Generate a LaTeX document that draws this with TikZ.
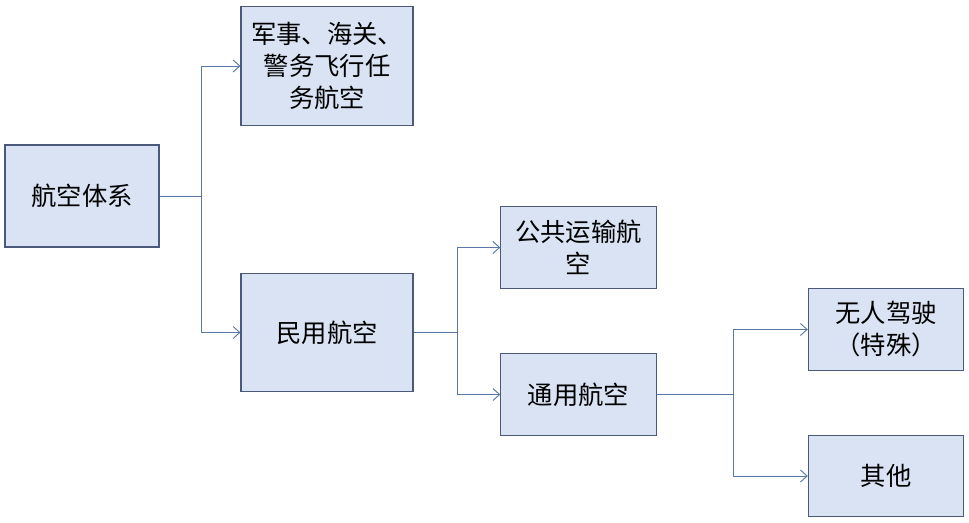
\documentclass[tikz,border=0pt]{standalone}
\usepackage{fontspec}
\setmainfont{Noto Sans CJK SC}
\usetikzlibrary{arrows.meta}

\definecolor{boxfill}{HTML}{DAE3F3}
\definecolor{boxline}{HTML}{4A5A78}
\definecolor{linkline}{HTML}{5A78A4}

\tikzset{
    box/.style={draw=boxline, fill=boxfill, line width=0.8pt, inner sep=0pt,
        align=center, font=\fontsize{19}{24}\selectfont},
    sysbox/.style={box, minimum width=115.5pt, minimum height=76.5pt},
    bigbox/.style={box, minimum width=129pt, minimum height=89pt},
    smallbox/.style={box, minimum width=116.5pt, minimum height=61pt},
    link/.style={draw=linkline, line width=0.7pt},
    linkto/.style={link, -{Straight Barb[length=5pt,width=9pt,line width=0.7pt]}}
}

\begin{document}
\begin{tikzpicture}[x=0.75pt,y=-0.75pt]
    % Frame
    \useasboundingbox (0,0) rectangle (969,522);

    % Boxes
    \node[sysbox]   (sys) at (82,196)    {航空体系};
    \node[bigbox]   (mil) at (327,66)    {军事、海关、\\警务飞行任\\务航空};
    \node[bigbox]   (civ) at (327,332.5) {民用航空};
    \node[smallbox] (pub) at (578.5,247.5) {公共运输航\\空};
    \node[smallbox] (gen) at (578.5,394.5) {通用航空};
    \node[smallbox] (uav) at (886,329.5) {无人驾驶\\（特殊）};
    \node[smallbox] (oth) at (886,476)   {其他};

    % Junctions
    \coordinate (j1) at (201,196);
    \coordinate (j2) at (457,332.5);
    \coordinate (j3) at (733,394.5);

    % Links
    \draw[link]   (sys.east) -- (j1);
    \draw[linkto] (j1) |- (mil.west);
    \draw[linkto] (j1) |- (civ.west);

    \draw[link]   (civ.east) -- (j2);
    \draw[linkto] (j2) |- (pub.west);
    \draw[linkto] (j2) |- (gen.west);

    \draw[link]   (gen.east) -- (j3);
    \draw[linkto] (j3) |- (uav.west);
    \draw[linkto] (j3) |- (oth.west);
\end{tikzpicture}
\end{document}
